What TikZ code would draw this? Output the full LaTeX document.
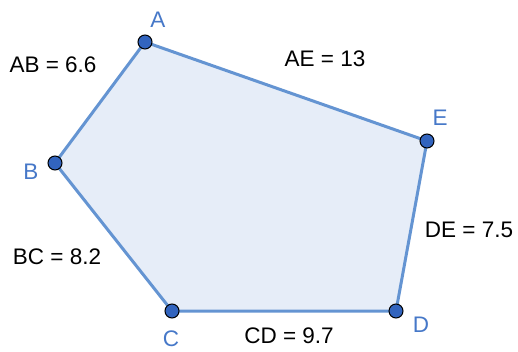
\documentclass[tikz,border=0pt]{standalone}
\usepackage{fontspec}
\setmainfont{Liberation Sans}
\definecolor{edgeblue}{RGB}{100,148,210}
\definecolor{fillblue}{RGB}{230,237,248}
\definecolor{dotblue}{RGB}{50,100,190}
\definecolor{lblblue}{RGB}{70,120,200}
\begin{document}
\begin{tikzpicture}[x=1pt,y=1pt,
  vtx/.style={circle,fill=dotblue,draw=black,line width=1pt,minimum size=14pt,inner sep=0pt},
  vlbl/.style={text=lblblue,inner sep=0pt,font=\fontsize{22.5}{27}\selectfont},
  slbl/.style={text=black,inner sep=0pt,font=\fontsize{22.5}{27}\selectfont}]
\useasboundingbox (0,0) rectangle (518,351);
\coordinate (A) at (145,309);
\coordinate (B) at (55,188);
\coordinate (C) at (172,40);
\coordinate (D) at (396,40);
\coordinate (E) at (427,210);
\filldraw[fill=fillblue,draw=edgeblue,line width=3pt,line join=round] (A) -- (B) -- (C) -- (D) -- (E) -- cycle;
\node[vtx] (nA) at (A) {};
\node[vtx] (nB) at (B) {};
\node[vtx] (nC) at (C) {};
\node[vtx] (nD) at (D) {};
\node[vtx] (nE) at (E) {};
\node[vlbl] (lA) at (158,331) {A};
\node[vlbl] (lB) at (31,179) {B};
\node[vlbl] (lC) at (171,12) {C};
\node[vlbl] (lD) at (421,26) {D};
\node[vlbl] (lE) at (440,233) {E};
\node[slbl] (sAB) at (53,286) {AB = 6.6};
\node[slbl] (sAE) at (325,292) {AE = 13};
\node[slbl] (sDE) at (469,121) {DE = 7.5};
\node[slbl] (sBC) at (57,94) {BC = 8.2};
\node[slbl] (sCD) at (289,15) {CD = 9.7};
\end{tikzpicture}
\end{document}
